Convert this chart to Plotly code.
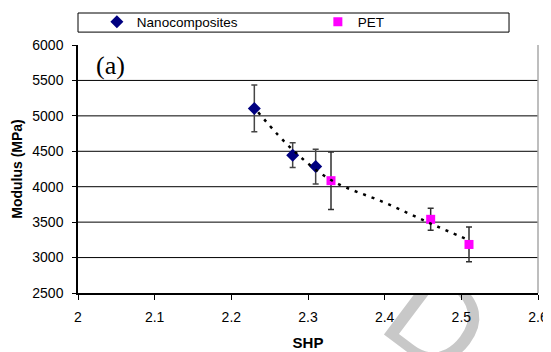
import plotly.graph_objects as go

# ---- data ----
nano_shp = [2.23, 2.28, 2.31]
nano_mod = [5105, 4445, 4285]
nano_err = [330, 175, 245]

pet_shp = [2.33, 2.46, 2.51]
pet_mod = [4085, 3540, 3185]
pet_err = [405, 155, 245]

trend_shp = [2.235, 2.28, 2.33, 2.40, 2.46, 2.51]
trend_mod = [5050, 4520, 4095, 3775, 3480, 3245]

x_ticks = [2.0, 2.1, 2.2, 2.3, 2.4, 2.5, 2.6]
x_ticktext = ["2", "2.1", "2.2", "2.3", "2.4", "2.5", "2.6"]
y_ticks = [2500, 3000, 3500, 4000, 4500, 5000, 5500, 6000]
grid_y = [3000, 3500, 4000, 4500, 5000, 5500]

FONT = "Liberation Sans, Arial, sans-serif"

fig = go.Figure()

fig.add_trace(go.Scatter(
    x=nano_shp, y=nano_mod, mode="markers", name="Nanocomposites",
    marker=dict(symbol="diamond", size=10, color="#000080"),
    error_y=dict(type="data", array=nano_err, visible=True,
                 color="#454545", thickness=1.5, width=3),
))
fig.add_trace(go.Scatter(
    x=pet_shp, y=pet_mod, mode="markers", name="PET",
    marker=dict(symbol="square", size=9, color="#FF00FF"),
    error_y=dict(type="data", array=pet_err, visible=True,
                 color="#303030", thickness=1.5, width=3),
))
fig.add_trace(go.Scatter(
    x=trend_shp, y=trend_mod, mode="lines", showlegend=False,
    line=dict(color="black", width=2.5, dash="3px,6px", shape="spline"),
    hoverinfo="skip",
))

shapes = []
# watermark (partly hidden behind the plot area)
shapes.append(dict(
    type="rect", xref="paper", yref="paper",
    x0=0.788, x1=0.808, y0=-0.083, y1=-0.063,
    line=dict(width=0), fillcolor="rgba(0,0,0,0)", layer="below",
    label=dict(text="D", font=dict(size=125, color="#c8c8c8", family=FONT),
               textangle=37, textposition="middle center"),
))
# white plot area masking the watermark
shapes.append(dict(
    type="rect", xref="paper", yref="paper", x0=0, x1=1, y0=0, y1=1,
    line=dict(width=0), fillcolor="white", layer="below",
))
# horizontal gridlines
for gy in grid_y:
    shapes.append(dict(
        type="line", xref="paper", yref="y", x0=0, x1=1, y0=gy, y1=gy,
        line=dict(color="black", width=1), layer="below",
    ))
# right border of plot area
shapes.append(dict(
    type="line", xref="paper", yref="paper", x0=1, x1=1, y0=0, y1=1,
    line=dict(color="#a8a8a8", width=1.5), layer="above",
))
# legend box
shapes.append(dict(
    type="rect", xref="paper", yref="paper", x0=0, x1=0.937, y0=1.052, y1=1.129,
    line=dict(color="black", width=1), fillcolor="white", layer="below",
))

# the page body adds an 8px offset, so the figure is 8px smaller than the window
fig.update_layout(
    width=543, height=344, autosize=False,
    margin=dict(l=70, r=13, t=37, b=59, autoexpand=False),
    paper_bgcolor="white", plot_bgcolor="white",
    font=dict(family=FONT, size=14, color="black"),
    shapes=shapes,
    showlegend=True,
    legend=dict(
        orientation="h", x=0.041, y=1.093, xanchor="left", yanchor="middle",
        borderwidth=0, bgcolor="rgba(0,0,0,0)",
        font=dict(family=FONT, size=13.5, color="black"),
        entrywidth=176, entrywidthmode="pixels",
        tracegroupgap=0,
    ),
    annotations=[dict(
        text="(a)", xref="paper", yref="paper", x=0.0717, y=0.919,
        xanchor="center", yanchor="middle", showarrow=False,
        font=dict(family="Liberation Serif, Times New Roman, serif", size=26, color="black"),
    )],
)
fig.update_xaxes(
    range=[2, 2.6], tickvals=x_ticks, ticktext=x_ticktext,
    showline=True, linecolor="black", linewidth=1.5,
    ticks="outside", ticklen=5, tickcolor="black", tickwidth=1,
    showgrid=False, zeroline=False, automargin=False,
    tickfont=dict(size=14), ticklabelstandoff=5,
    title=dict(text="<b>SHP</b>", font=dict(size=15), standoff=14),
)
fig.update_yaxes(
    range=[2500, 6000], tickvals=y_ticks,
    showline=True, linecolor="black", linewidth=1.5,
    ticks="outside", ticklen=4, tickcolor="black", tickwidth=1,
    showgrid=False, zeroline=False, automargin=False,
    tickfont=dict(size=14), ticklabelstandoff=6,
    title=dict(text="<b>Modulus (MPa)</b>", font=dict(size=14), standoff=6),
)

fig.write_html("out.html")
